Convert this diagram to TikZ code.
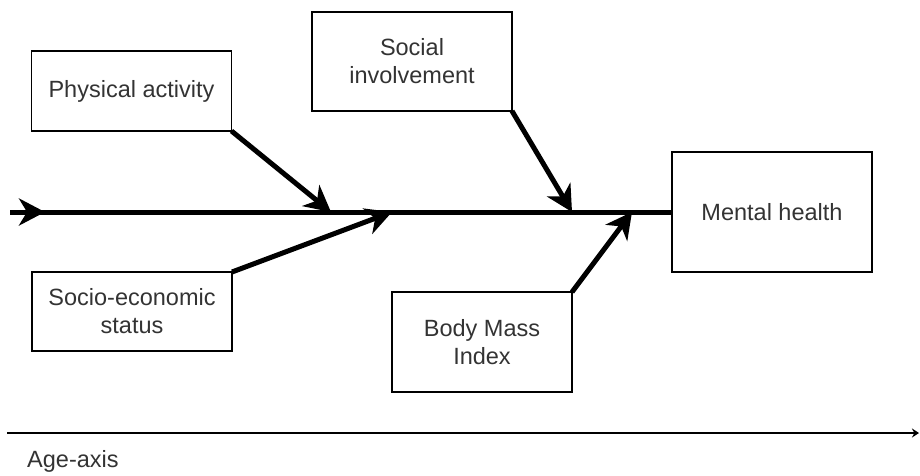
\documentclass[tikz,border=0pt]{standalone}
\usepackage{fontspec}
\setmainfont{Liberation Sans}
\usetikzlibrary{arrows.meta}
\begin{document}
\begin{tikzpicture}[x=1pt, y=-1pt,
			factor/.style={draw, line width=1.3pt, inner sep=0pt, outer sep=0pt, minimum width=200pt, align=center, text=black!80, font=\fontsize{23.5}{28}\selectfont},
			spine/.style={line width=5pt},
			bone/.style={line width=5pt, -{Stealth[length=26pt, width=27pt, inset=8pt]}}]
			\useasboundingbox (0,0) rectangle (920,475);
			
			\node[factor, minimum height=80pt] (activity) at (131.5,91) {Physical activity};
			\node[factor, minimum height=99pt] (social) at (412,61.5) {Social\\involvement};
			\node[factor, minimum height=120pt] (mental) at (772,212) {Mental health};
			\node[factor, minimum height=79pt] (status) at (132,311.5) {Socio-economic\\status};
			\node[factor, minimum width=180pt, minimum height=100pt] (bmi) at (482,342) {Body Mass\\Index};
			
			\coordinate (start) at (10,212);
			\coordinate (entry) at (45,212);
			\coordinate (tip activity) at (331,212);
			\coordinate (tip status) at (392,212);
			\coordinate (tip social) at (572,212);
			\coordinate (tip bmi) at (632,212);
			
			\draw[spine] (start) -- (mental.west);
			\draw[bone] (start) -- (entry);
			\draw[bone] (activity.south east) -- (tip activity);
			\draw[bone] (status.north east) -- (tip status);
			\draw[bone] (social.south east) -- (tip social);
			\draw[bone] (bmi.north east) -- (tip bmi);
			
			% age axis
			\coordinate (axis start) at (7,433);
			\coordinate (axis end) at (919,433);
			\draw[line width=1.5pt, -{Stealth[length=7pt, width=9pt]}] (axis start) -- (axis end);
			\node[anchor=west, inner sep=0pt, text=black!80, font=\fontsize{23.5}{28}\selectfont] (agelabel) at (27,461) {Age-axis};
		\end{tikzpicture}
\end{document}
